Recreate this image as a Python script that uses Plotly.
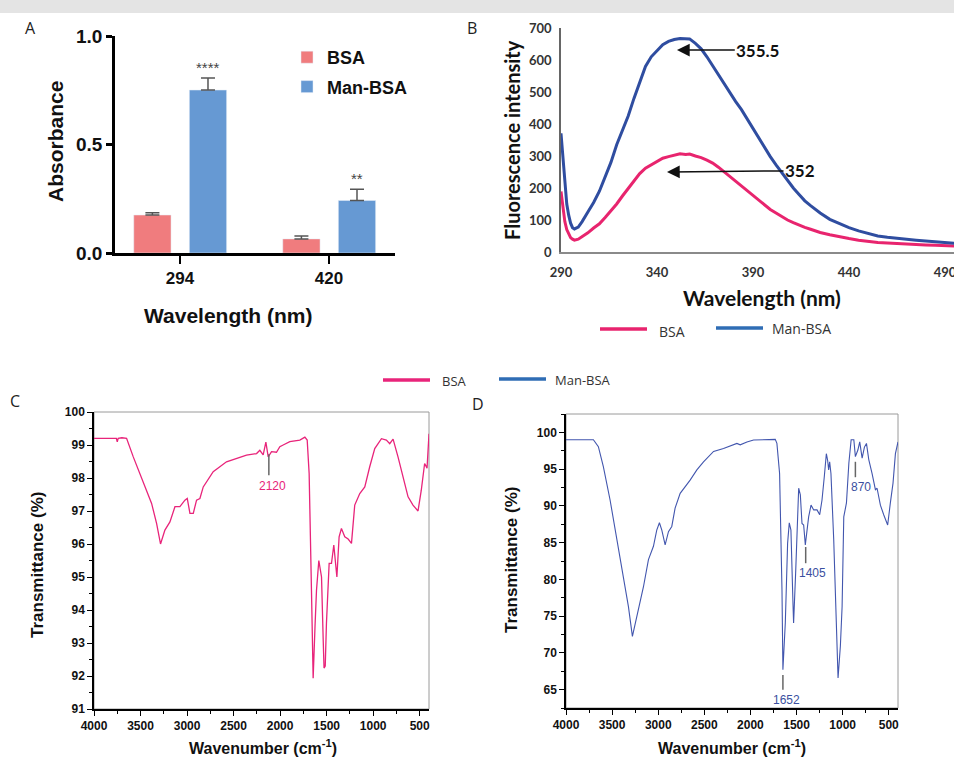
import plotly.graph_objects as go

W, H = 954, 760
def px(x): return x / W
def py(y): return 1 - y / H

# ---------------- Panel A data ----------------
abs_categories = ["294", "420"]
abs_bsa = [0.175, 0.065]
abs_bsa_err = [0.010, 0.013]
abs_man = [0.751, 0.242]
abs_man_err = [0.055, 0.052]
abs_sig = ["****", "**"]

# ---------------- Panel B data ----------------
fl_wavelength = [290, 291, 292, 293, 294, 295, 296, 297, 299, 301, 304, 307, 310, 313, 316, 319, 322, 325,
                 328, 331, 334, 337, 340, 343, 346, 349, 352, 355, 357, 360, 363, 366, 369, 372, 375, 378,
                 381, 384, 387, 390, 393, 396, 399, 402, 405, 408, 411, 414, 417, 420, 425, 430, 435, 440,
                 445, 450, 455, 460, 465, 470, 475, 480, 485, 490, 495]
fl_man = [371, 290, 210, 150, 115, 90, 76, 72, 78, 95, 125, 155, 190, 235, 280, 335, 380, 425,
          480, 530, 580, 610, 630, 648, 658, 664, 667, 667, 666, 652, 635, 610, 582, 555, 525, 495,
          470, 445, 415, 385, 355, 325, 298, 272, 248, 225, 200, 180, 160, 145, 122, 102, 88, 76,
          66, 57, 50, 46, 42, 40, 37, 34, 32, 29, 27]
fl_bsa = [189, 140, 95, 70, 55, 45, 40, 37, 40, 47, 60, 75, 88, 108, 128, 150, 175, 198,
          222, 245, 262, 272, 283, 293, 298, 303, 307, 305, 306, 300, 295, 287, 278, 265, 250, 237,
          222, 205, 190, 176, 162, 148, 133, 122, 110, 100, 92, 84, 77, 71, 61, 54, 47, 42,
          37, 33, 30, 28, 26, 24, 23, 22, 21, 20, 19]
fl_peaks = [355.5, 352]

# ---------------- Panel C data (BSA FTIR) ----------------
wn_bsa = [4000, 3900, 3800, 3760, 3750, 3740, 3700, 3650, 3578, 3506, 3435, 3381, 3327, 3285, 3238, 3184,
          3130, 3077, 3023, 2998, 2969, 2933, 2898, 2862, 2826, 2719, 2576, 2468, 2361, 2253, 2218, 2182,
          2153, 2128, 2092, 2039, 2003, 1967, 1896, 1788, 1734, 1709, 1688, 1663, 1645, 1625, 1609, 1584,
          1555, 1537, 1528, 1515, 1502, 1473, 1448, 1423, 1402, 1390, 1366, 1341, 1305, 1269, 1233, 1198,
          1144, 1090, 1037, 983, 911, 858, 822, 786, 733, 679, 625, 572, 518, 483, 447, 421, 400]
tr_bsa = [99.2, 99.2, 99.2, 99.2, 99.1, 99.2, 99.22, 99.2, 98.64, 98.14, 97.63, 97.23, 96.62, 96.0, 96.42, 96.67,
          97.13, 97.13, 97.33, 97.38, 96.93, 96.93, 97.33, 97.38, 97.73, 98.19, 98.49, 98.59, 98.69, 98.74, 98.84, 98.7,
          99.09, 98.64, 98.8, 98.78, 98.95, 99.0, 99.1, 99.15, 99.24, 99.15, 98.14, 94.6, 91.93, 93.5, 94.6, 95.5,
          95.0, 93.1, 92.24, 92.3, 93.6, 95.41, 95.41, 95.97, 95.41, 95.0, 96.22, 96.47, 96.22, 96.15, 96.02, 97.18,
          97.53, 97.73, 98.34, 98.89, 99.19, 99.15, 99.04, 99.18, 98.64, 98.03, 97.43, 97.18, 97.0, 97.63, 98.44, 98.3, 99.34]
bsa_marks = [2120]

# ---------------- Panel D data (Man-BSA FTIR) ----------------
wn_man = [4000, 3900, 3800, 3703, 3649, 3595, 3522, 3450, 3378, 3323, 3280, 3233, 3160, 3106, 3052, 3016,
          2987, 2961, 2925, 2889, 2853, 2817, 2762, 2654, 2581, 2509, 2400, 2292, 2183, 2147, 2111, 2038,
          1966, 1850, 1785, 1731, 1713, 1684, 1658, 1648, 1622, 1597, 1579, 1561, 1539, 1532, 1510, 1477,
          1459, 1441, 1423, 1405, 1369, 1343, 1314, 1278, 1249, 1224, 1199, 1177, 1163, 1152, 1141, 1127,
          1097, 1072, 1050, 1025, 1006, 988, 959, 933, 908, 879, 862, 835, 815, 789, 764, 742,
          717, 681, 645, 627, 591, 555, 512, 483, 454, 428, 400]
tr_man = [99.0, 99.0, 99.0, 99.0, 98.05, 95.34, 90.8, 85.4, 80.4, 76.3, 72.25, 75.0, 79.0, 82.7, 84.5, 86.7,
          87.7, 86.7, 84.7, 86.5, 87.2, 89.7, 91.7, 93.5, 94.9, 96.0, 97.4, 97.8, 98.3, 98.5, 98.3, 98.7,
          98.96, 99.0, 99.0, 99.05, 98.5, 94.4, 78.6, 67.7, 74.06, 84.9, 87.7, 86.7, 76.8, 74.06, 80.85, 92.4,
          91.5, 87.6, 87.4, 84.7, 88.5, 90.1, 89.45, 89.45, 88.8, 90.8, 94.0, 97.1, 96.2, 94.9, 96.0, 94.4,
          85.4, 74.06, 66.6, 70.9, 76.3, 88.5, 90.4, 95.8, 99.0, 99.0, 96.7, 97.6, 98.7, 96.5, 98.0, 98.5,
          96.3, 94.4, 92.2, 92.4, 90.1, 88.8, 87.4, 90.4, 93.1, 97.1, 98.7]
man_marks = [1652, 1405, 870]

legend_names = ["BSA", "Man-BSA"]

# ---------------- styles ----------------
RED_BAR, BLUE_BAR = "#F07C7E", "#6699D3"
PINK, NAVY = "#E8246E", "#2F4DA0"
PINK_IR, BLUE_IR = "#E8247A", "#4256AE"
LEG_BLUE = "#2F6DB5"
ARIAL = "Liberation Sans"
CAL = "Lato"
SEG = "Open Sans"

fig = go.Figure()

# ---- A: bars ----
fig.add_trace(go.Bar(x=[0, 1], y=abs_bsa, name=legend_names[0], marker_color=RED_BAR, width=0.25, offset=-0.31,
                     error_y=dict(type="data", array=abs_bsa_err, arrayminus=[0, 0], symmetric=False,
                                  color="#555", thickness=1.5, width=7),
                     xaxis="x", yaxis="y", legend="legend", legendgroup="a1"))
fig.add_trace(go.Bar(x=[0, 1], y=abs_man, name=legend_names[1], marker_color=BLUE_BAR, width=0.25, offset=0.063,
                     error_y=dict(type="data", array=abs_man_err, arrayminus=[0, 0], symmetric=False,
                                  color="#555", thickness=1.5, width=7),
                     xaxis="x", yaxis="y", legend="legend", legendgroup="a2"))

# ---- B: fluorescence ----
fig.add_trace(go.Scatter(x=fl_wavelength, y=fl_bsa, mode="lines", name=legend_names[0], showlegend=False,
                         line=dict(color=PINK, width=3), xaxis="x2", yaxis="y2"))
fig.add_trace(go.Scatter(x=fl_wavelength, y=fl_man, mode="lines", name=legend_names[1], showlegend=False,
                         line=dict(color=NAVY, width=3), xaxis="x2", yaxis="y2"))

# ---- C / D: FTIR ----
fig.add_trace(go.Scatter(x=wn_bsa, y=tr_bsa, mode="lines", name=legend_names[0], showlegend=False,
                         line=dict(color=PINK_IR, width=1.3), xaxis="x3", yaxis="y3"))
fig.add_trace(go.Scatter(x=wn_man, y=tr_man, mode="lines", name=legend_names[1], showlegend=False,
                         line=dict(color=BLUE_IR, width=1.1), xaxis="x4", yaxis="y4"))

ax_common = dict(showgrid=False, zeroline=False, showline=True, automargin=False)

layout = dict(
    width=W, height=H, autosize=False,
    margin=dict(l=0, r=0, t=0, b=0, pad=0, autoexpand=False),
    paper_bgcolor="white", plot_bgcolor="white",
    barmode="overlay",
    showlegend=True,
    # A
    xaxis=dict(domain=[px(115), px(395)], range=[-0.436, 1.443], tickvals=[0, 1], ticktext=abs_categories,
               linecolor="black", linewidth=2.5, ticks="outside", ticklen=8, tickwidth=2, tickcolor="black",
               tickfont=dict(family=ARIAL, size=17, color="#111", weight="bold"), anchor="y", **ax_common),
    yaxis=dict(domain=[py(253), py(36)], range=[0, 1.0], tickvals=[0, 0.5, 1.0], ticktext=["0.0", "0.5", "1.0"],
               linecolor="black", linewidth=2.5, ticks="outside", ticklen=6, tickwidth=2.5, tickcolor="black",
               tickfont=dict(family=ARIAL, size=19, color="#111", weight="bold"), anchor="x", **ax_common),
    # B
    xaxis2=dict(domain=[px(561), 1.0], range=[290, 494.7], tickvals=[290, 340, 390, 440, 490],
                linecolor="#8a8a8a", linewidth=1.5, ticks="", ticklabelstandoff=8, ticklabeloverflow="allow",
                tickfont=dict(family=CAL, size=13, color="#333", weight="bold"), anchor="y2", **ax_common),
    yaxis2=dict(domain=[py(252), py(28)], range=[0, 700], dtick=100,
                linecolor="#666", linewidth=1.5, ticks="", ticklabelstandoff=5, ticklabeloverflow="allow",
                tickfont=dict(family=CAL, size=13, color="#333", weight="bold"), anchor="x2", **ax_common),
    # C
    xaxis3=dict(domain=[px(94), px(429)], range=[4000, 400], dtick=500, tick0=500,
                linecolor="black", linewidth=1.5, ticks="outside", ticklen=5, tickwidth=1.2, tickcolor="black",
                minor=dict(ticks="outside", ticklen=3, dtick=250, tick0=500, tickcolor="black"),
                tickfont=dict(family=ARIAL, size=12, color="#111", weight="bold"), anchor="y3", **ax_common),
    yaxis3=dict(domain=[py(709), py(412)], range=[91, 100], dtick=1,
                linecolor="black", linewidth=1.5, ticks="outside", ticklen=5, tickwidth=1.2, tickcolor="black",
                minor=dict(ticks="outside", ticklen=3, dtick=0.5, tickcolor="black"),
                tickfont=dict(family=ARIAL, size=12, color="#111", weight="bold"), anchor="x3", **ax_common),
    # D
    xaxis4=dict(domain=[px(566), px(898)], range=[4000, 400], dtick=500, tick0=500,
                linecolor="black", linewidth=1.5, ticks="outside", ticklen=5, tickwidth=1.2, tickcolor="black",
                minor=dict(ticks="outside", ticklen=3, dtick=250, tick0=500, tickcolor="black"),
                tickfont=dict(family=ARIAL, size=12, color="#111", weight="bold"), anchor="y4", **ax_common),
    yaxis4=dict(domain=[py(708), py(414)], range=[62.5, 102.5], tickvals=[65, 70, 75, 80, 85, 90, 95, 100],
                linecolor="black", linewidth=1.5, ticks="outside", ticklen=5, tickwidth=1.2, tickcolor="black",
                minor=dict(ticks="outside", ticklen=3, dtick=2.5, tick0=62.5, tickcolor="black"),
                tickfont=dict(family=ARIAL, size=12, color="#111", weight="bold"), anchor="x4", **ax_common),
    legend=dict(x=px(287), y=py(39), xanchor="left", yanchor="top", orientation="v",
                font=dict(family=ARIAL, size=18, color="#111", weight="bold"), bgcolor="rgba(0,0,0,0)",
                tracegroupgap=3),
)
fig.update_layout(**layout)

annotations = []
def txt(x, y, s, size, family=ARIAL, color="#111", weight="normal", angle=0, xanchor="center"):
    annotations.append(dict(x=px(x), y=py(y), xref="paper", yref="paper", text=s, showarrow=False,
                            xanchor=xanchor, yanchor="middle", textangle=angle,
                            font=dict(family=family, size=size, color=color, weight=weight)))

# panel letters
txt(30, 28, "A", 16, family=SEG, color="#222")
txt(472, 28, "B", 16, family=SEG, color="#222")
txt(15, 401, "C", 16, family=SEG, color="#222")
txt(478, 404, "D", 16, family=SEG, color="#222")

# axis titles
txt(55, 142, "Absorbance", 21, weight="bold", angle=-90)
txt(228, 316, "Wavelength (nm)", 21, weight="bold")
txt(512, 140, "Fluorescence intensity", 20, family=CAL, weight="bold", angle=-90)
txt(762, 297, "Wavelength (nm)", 21, family=CAL, weight="bold")
txt(37, 565, "Transmittance (%)", 17, weight="bold", angle=-90)
txt(263, 747, "Wavenumber (cm<sup>-1</sup>)", 16, weight="bold")
txt(511, 560, "Transmittance (%)", 17, weight="bold", angle=-90)
txt(732, 747, "Wavenumber (cm<sup>-1</sup>)", 16, weight="bold")

# significance stars (A)
for i, s in enumerate(abs_sig):
    annotations.append(dict(x=i + 0.188, y=abs_man[i] + abs_man_err[i], xref="x", yref="y", text=s,
                            showarrow=False, yanchor="bottom", yshift=0,
                            font=dict(family=ARIAL, size=15, color="#444")))

# peak arrows (B)
annotations.append(dict(x=350.4, y=631, xref="x2", yref="y2", ax=392.5, ay=631, axref="x2", ayref="y2",
                        text="<b>%s</b>" % fl_peaks[0], showarrow=True, arrowhead=2, arrowsize=1.7,
                        arrowwidth=1.5, arrowcolor="#111", standoff=0,
                        font=dict(family=CAL, size=17, color="#111")))
annotations.append(dict(x=345.2, y=250, xref="x2", yref="y2", ax=414.5, ay=254, axref="x2", ayref="y2",
                        text="<b>%g</b>" % fl_peaks[1], showarrow=True, arrowhead=2, arrowsize=1.7,
                        arrowwidth=1.5, arrowcolor="#111", standoff=0,
                        font=dict(family=CAL, size=17, color="#111")))

# FTIR marks
shapes = []
def mark(xa, ya, xline, y0, y1, label, xl, yl, color):
    shapes.append(dict(type="line", xref=xa, yref=ya, x0=xline, x1=xline, y0=y0, y1=y1,
                       line=dict(color="#666", width=1.5)))
    annotations.append(dict(x=xl, y=yl, xref=xa, yref=ya, text=str(label), showarrow=False,
                            font=dict(family=ARIAL, size=12, color=color)))

mark("x3", "y3", 2121, 98.72, 98.08, bsa_marks[0], 2082, 97.76, PINK_IR)
mark("x4", "y4", 1648, 67.0, 65.0, man_marks[0], 1611, 63.6, "#3A4FA0")
mark("x4", "y4", 1401, 84.4, 82.2, man_marks[1], 1322, 80.85, "#3A4FA0")
mark("x4", "y4", 862, 96.0, 93.9, man_marks[2], 800, 92.6, "#3A4FA0")

# frames for C and D (light top/right)
for xa, ya in [("x3", "y3"), ("x4", "y4")]:
    shapes.append(dict(type="rect", xref=xa + " domain", yref=ya + " domain", x0=0, x1=1, y0=0, y1=1,
                       line=dict(color="#9a9a9a", width=1), layer="below"))

# top grey band (page background)
shapes.append(dict(type="rect", xref="paper", yref="paper", x0=0, x1=1, y0=py(13), y1=1,
                   line=dict(width=0), fillcolor="#e4e4e4", layer="below"))

# line legends: panel B (below B) and shared C/D legend (between rows)
def line_legend(x0, yc, color, label):
    shapes.append(dict(type="line", xref="paper", yref="paper", x0=px(x0), x1=px(x0 + 47), y0=py(yc), y1=py(yc),
                       line=dict(color=color, width=3.5)))

line_legend(600, 329, PINK, legend_names[0])
line_legend(716, 328, LEG_BLUE, legend_names[1])
txt(657, 331, legend_names[0], 14, family=SEG, color="#333", xanchor="left")
txt(770, 329, legend_names[1], 14, family=SEG, color="#333", xanchor="left")

line_legend(383, 380, PINK_IR, legend_names[0])
line_legend(499, 379, LEG_BLUE, legend_names[1])
txt(440, 381, legend_names[0], 13, family=SEG, color="#333", xanchor="left")
txt(553, 380, legend_names[1], 13, family=SEG, color="#333", xanchor="left")

fig.update_layout(annotations=annotations, shapes=shapes)
fig.write_html("out.html", config={"displayModeBar": False},
               post_script="document.body.style.margin='0';document.body.style.overflow='hidden';")
